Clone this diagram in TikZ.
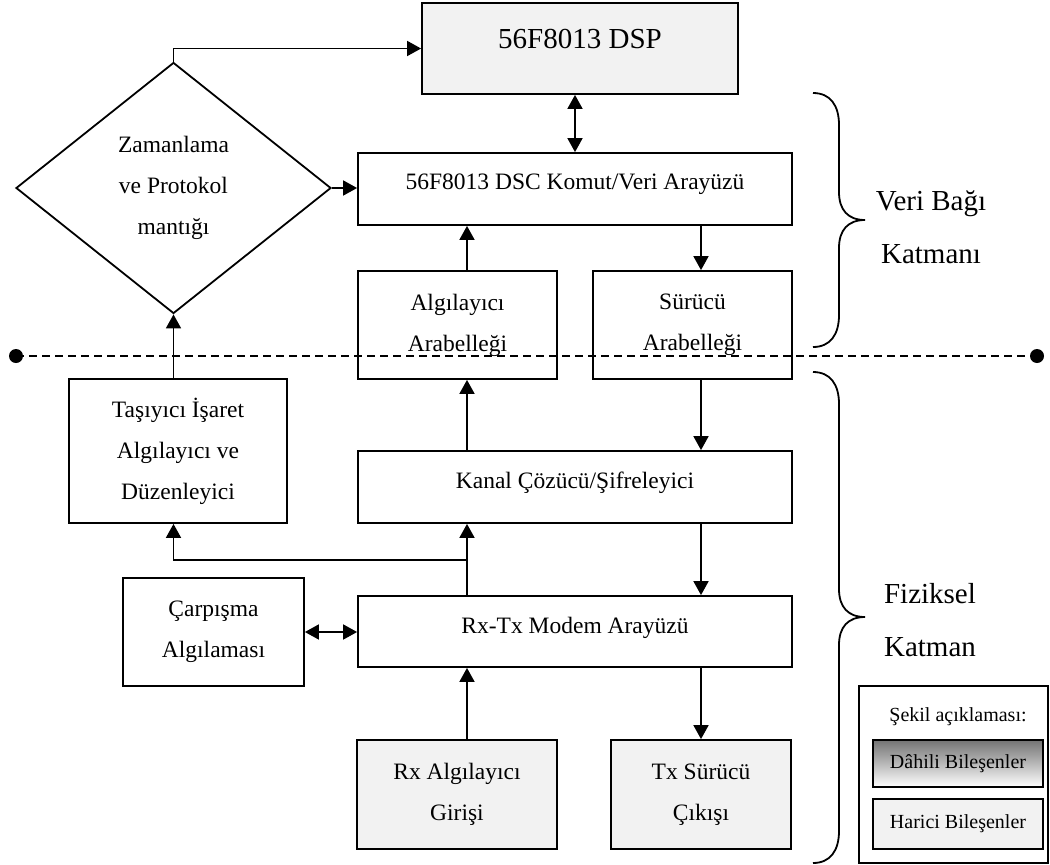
\documentclass[tikz,border=0pt]{standalone}
\usepackage{fontspec}
\setmainfont{Liberation Serif}
\usetikzlibrary{arrows.meta,shapes.geometric}
\definecolor{extgray}{HTML}{F2F2F2}

\begin{document}
\begin{tikzpicture}[x=1pt,y=-1pt,
    box/.style={draw, line width=1.8pt, fill=white, align=center, inner sep=0pt,
                font=\fontsize{23.5}{41}\selectfont},
    ext/.style={box, fill=extgray},
    arr/.style={line width=1.8pt, -{Triangle[length=14pt,width=15pt]}},
    biarr/.style={line width=1.8pt, {Triangle[length=14pt,width=15pt]}-{Triangle[length=14pt,width=15pt]}},
    layer/.style={align=center, font=\fontsize{29}{53}\selectfont},
    legtext/.style={font=\fontsize{20}{24}\selectfont}]
    \useasboundingbox (0,0) rectangle (1050,865);

    % Data link layer
    \node[ext, minimum width=316pt, minimum height=91pt, text depth=20pt,
          font=\fontsize{29}{34}\selectfont] (dsp) at (580,48.5) {56F8013 DSP};
    \node[box, minimum width=434pt, minimum height=72pt, text depth=14pt] (dsc) at (575,189)
        {56F8013 DSC Komut/Veri Arayüzü};
    \node[box, minimum width=199pt, minimum height=108pt] (albuf) at (457.5,325) {Algılayıcı\\Arabelleği};
    \node[box, minimum width=199pt, minimum height=108pt] (srbuf) at (692.5,325) {Sürücü\\Arabelleği};
    \node[box, diamond, minimum width=315pt, minimum height=251pt] (logic) at (173.5,188)
        {Zamanlama\\ve Protokol\\mantığı};

    % Physical layer
    \node[box, minimum width=218pt, minimum height=144pt] (carrier) at (178,451)
        {Taşıyıcı İşaret\\Algılayıcı ve\\Düzenleyici};
    \node[box, minimum width=434pt, minimum height=72pt, text depth=13pt] (kanal) at (575,487)
        {Kanal Çözücü/Şifreleyici};
    \node[box, minimum width=434pt, minimum height=71pt, text depth=13pt] (modem) at (575,631.5)
        {Rx-Tx Modem Arayüzü};
    \node[box, minimum width=181pt, minimum height=108pt] (collide) at (213.5,632) {Çarpışma\\Algılaması};
    \node[ext, minimum width=200pt, minimum height=109pt] (rxin) at (457,794.5) {Rx Algılayıcı\\Girişi};
    \node[ext, minimum width=180pt, minimum height=109pt] (txout) at (701,794.5) {Tx Sürücü\\Çıkışı};

    % Connectors
    \coordinate (rxline) at (467,0);
    \coordinate (split) at (467,560);
    \draw[arr] (logic.north) |- (dsp.west);
    \draw[arr] (logic.east) -- (logic.east -| dsc.west);
    \draw[biarr] (dsc.north) -- (dsc.north |- dsp.south);
    \draw[arr] (albuf.north -| rxline) -- (dsc.south -| rxline);
    \draw[arr] (dsc.south -| txout) -- (srbuf.north -| txout);
    \draw[arr] (srbuf.south -| txout) -- (kanal.north -| txout);
    \draw[arr] (kanal.north -| rxline) -- (albuf.south -| rxline);
    \draw[arr] (kanal.south -| txout) -- (modem.north -| txout);
    \draw[arr] (modem.north -| rxline) -- (kanal.south -| rxline);
    \draw[arr] (split) -| (carrier.south -| logic.south);
    \draw[arr] (carrier.north -| logic.south) -- (logic.south);
    \draw[biarr] (collide.east) -- (collide.east -| modem.west);
    \draw[arr] (rxin.north -| rxline) -- (modem.south -| rxline);
    \draw[arr] (modem.south -| txout) -- (txout.north);

    % Layer border
    \coordinate (sepL) at (16,356);
    \coordinate (sepR) at (1037,356);
    \draw[line width=1.8pt, dash pattern=on 8pt off 5pt] (sepL) -- (sepR);
    \fill (sepL) circle (7pt);
    \fill (sepR) circle (7pt);

    % Braces and layer names
    \draw[line width=1.8pt] (813,93) .. controls (830,93) and (839,105) .. (839,125) -- (839,192)
        .. controls (839,210) and (848,220) .. (865,220) .. controls (848,220) and (839,230) .. (839,248)
        -- (839,315) .. controls (839,335) and (830,347) .. (813,347);
    \draw[line width=1.8pt] (813,372) .. controls (830,372) and (839,384) .. (839,404) -- (839,589)
        .. controls (839,607) and (848,617) .. (865,617) .. controls (848,617) and (839,627) .. (839,645)
        -- (839,831) .. controls (839,851) and (830,863) .. (813,863);
    \node[layer] (dlname) at (931,227) {Veri Bağı\\Katmanı};
    \node[layer] (phname) at (930,620) {Fiziksel\\Katman};

    % Legend
    \node[draw, line width=1.8pt, fill=white, minimum width=189pt, minimum height=177pt] (legend) at (953.5,774.5) {};
    \node[legtext] (legtitle) at (958,717) {Şekil açıklaması:};
    \node[draw, line width=1.8pt, top color=black!55, bottom color=white, legtext,
          minimum width=170pt, minimum height=47pt] (internal) at (958,763.5) {Dâhili Bileşenler};
    \node[draw, line width=1.8pt, fill=extgray, legtext,
          minimum width=170pt, minimum height=50pt] (external) at (958,824) {Harici Bileşenler};
\end{tikzpicture}
\end{document}
